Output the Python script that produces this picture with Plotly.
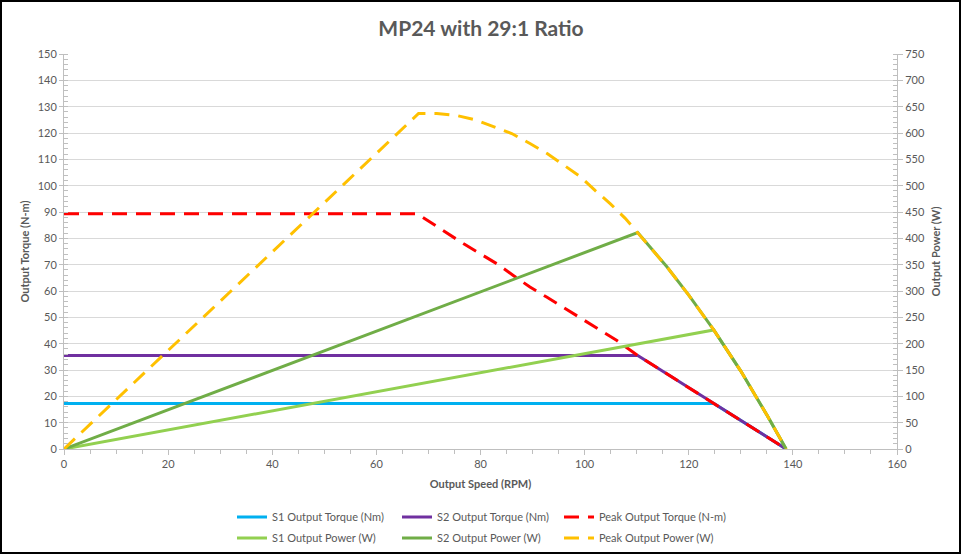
import plotly.graph_objects as go

# ---------------- data ----------------
s1_torque_speed = [0, 124.8, 138.7]
s1_torque = [17.3, 17.3, 0]

s2_torque_speed = [0, 110.2, 138.7]
s2_torque = [35.5, 35.5, 0]

peak_torque_speed = [0, 67.9, 70.3, 73.5, 76.7, 79.9, 83.1, 86.3, 89.5, 92.7,
                     96.3, 99.5, 102.7, 106.2, 110.2, 138.7]
peak_torque = [89.3, 89.3, 86.2, 82.0, 78.0, 74.2, 70.4, 65.9, 61.5, 57.7,
               53.3, 49.5, 45.7, 41.2, 35.5, 0]

s1_power_speed = [0, 124.8, 130.0, 135.1, 138.7]
s1_power = [0, 226, 148, 63, 0]

s2_power_speed = [0, 110.2, 115.8, 120.0, 124.8, 130.0, 135.1, 138.7]
s2_power = [0, 411, 346, 292, 226, 148, 63, 0]

peak_power_speed = [0, 68.1, 71.6, 75.5, 79.0, 82.5, 86.0, 89.5, 92.8, 96.0,
                    99.2, 102.0, 104.9, 107.8, 110.2, 115.8, 120.0, 124.8,
                    130.0, 135.1, 138.7]
peak_power = [0, 637, 637, 633, 625, 612, 599, 580, 561, 539,
              517, 491, 466, 438, 411, 346, 292, 226, 148, 63, 0]

title_text = "MP24 with 29:1 Ratio"
x_title = "Output Speed (RPM)"
y_title = "Output Torque (N-m)"
y2_title = "Output Power (W)"

# ---------------- styling ----------------
FONT = "Lato"
TXT = "#595959"
AX = "#bfbfbf"
GRID = "#d9d9d9"
DASH = "15px,9px"
LW = 3

fig = go.Figure()

def add(x, y, name, color, dash=None, axis="y", legend="legend"):
    fig.add_trace(go.Scatter(
        x=x, y=y, name=name, mode="lines", yaxis=axis, legend=legend,
        line=dict(color=color, width=LW, dash=dash) if dash else dict(color=color, width=LW),
        hoverinfo="x+y+name",
    ))

add(s1_torque_speed, s1_torque, "S1 Output Torque (Nm)", "#00b0f0")
add(s2_torque_speed, s2_torque, "S2 Output Torque (Nm)", "#7030a0")
add(peak_torque_speed, peak_torque, "Peak Output Torque (N-m)", "#ff0000", DASH, legend="legend3")
add(s1_power_speed, s1_power, "S1 Output Power (W)", "#92d050", axis="y2", legend="legend2")
add(s2_power_speed, s2_power, "S2 Output Power (W)", "#70ad47", axis="y2", legend="legend2")
add(peak_power_speed, peak_power, "Peak Output Power (W)", "#ffc000", DASH, axis="y2", legend="legend4")

W, H = 962, 556
L, R, T, B = 64, 65, 54, 107
pw, ph = W - L - R, H - T - B

def px_x(px):
    return (px - L) / pw

def px_y(py):
    return (H - B - py) / ph

legend_common = dict(
    orientation="h", xanchor="left", yanchor="middle",
    font=dict(family=FONT, size=11, color=TXT),
    entrywidth=120, entrywidthmode="pixels",
    bgcolor="rgba(0,0,0,0)", itemclick=False, tracegroupgap=0,
)
legend_single = dict(
    orientation="h", xanchor="left", yanchor="middle",
    font=dict(family=FONT, size=11, color=TXT),
    bgcolor="rgba(0,0,0,0)", itemclick=False, tracegroupgap=0,
)

fig.update_layout(
    width=W, height=H,
    margin=dict(l=L, r=R, t=T, b=B, autoexpand=False),
    paper_bgcolor="white", plot_bgcolor="white",
    font=dict(family=FONT, color=TXT, size=11),
    title=dict(text="<b>" + title_text + "</b>", x=0.5, xanchor="center",
               y=1 - 29 / H, yanchor="middle",
               font=dict(family=FONT, size=21, color=TXT)),
    showlegend=True,
    legend=dict(x=px_x(232), y=px_y(517), **legend_common),
    legend2=dict(x=px_x(232), y=px_y(538), **legend_common),
    legend3=dict(x=px_x(559), y=px_y(517), **legend_single),
    legend4=dict(x=px_x(559), y=px_y(538), **legend_single),
    xaxis=dict(
        range=[0, 160], dtick=20, tick0=0, showgrid=False, zeroline=False,
        showline=True, linecolor=AX, linewidth=1,
        ticks="outside", ticklen=5, tickcolor=AX,
        minor=dict(dtick=5, ticks="outside", ticklen=4, tickcolor=AX, showgrid=False),
        tickfont=dict(family=FONT, size=11, color=TXT),
        title=dict(text="<b>" + x_title + "</b>", font=dict(family=FONT, size=11, color=TXT), standoff=11),
    ),
    yaxis=dict(
        range=[0, 150], dtick=10, tick0=0, showgrid=True, gridcolor=GRID, gridwidth=1,
        zeroline=False, showline=True, linecolor=AX, linewidth=1,
        ticks="outside", ticklen=4, tickcolor=AX,
        minor=dict(dtick=2, ticks="inside", ticklen=4, tickcolor=AX, showgrid=False),
        tickfont=dict(family=FONT, size=11, color=TXT),
        title=dict(text="<b>" + y_title + "</b>", font=dict(family=FONT, size=11, color=TXT), standoff=5),
    ),
    yaxis2=dict(
        range=[0, 750], dtick=50, tick0=0, overlaying="y", side="right",
        showgrid=False, zeroline=False, showline=True, linecolor=AX, linewidth=1,
        ticks="outside", ticklen=5, tickcolor=AX,
        minor=dict(dtick=10, ticks="inside", ticklen=4, tickcolor=AX, showgrid=False),
        tickfont=dict(family=FONT, size=11, color=TXT),
        title=dict(text="<b>" + y2_title + "</b>", font=dict(family=FONT, size=11, color=TXT), standoff=8),
    ),
    shapes=[dict(type="rect", xref="paper", yref="paper",
                 x0=px_x(1), x1=px_x(960), y0=px_y(553), y1=px_y(1),
                 line=dict(color="black", width=2), fillcolor="rgba(0,0,0,0)", layer="below")],
)

fig.write_html("out.html", config={"displayModeBar": False},
               post_script="document.body.style.margin='0';document.body.style.overflow='hidden';")
